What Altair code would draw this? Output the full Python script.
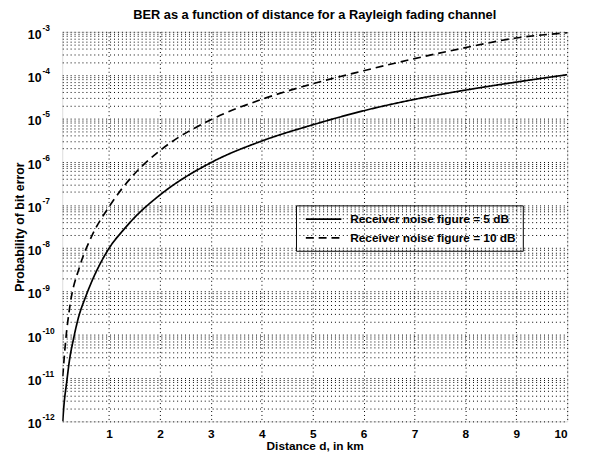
import altair as alt
import pandas as pd

# ---- data ----
series_names = ["Receiver noise figure = 5 dB", "Receiver noise figure = 10 dB"]

d_solid = [0.09, 0.11, 0.17, 0.22, 0.30, 0.39, 0.54, 0.65, 1.0, 1.30, 1.47,
           2.0, 3.0, 4.0, 5.0, 6.0, 7.0, 8.0, 9.0, 10.0]
ber_solid = [1.0e-12, 2.1e-12, 8.5e-12, 2.5e-11, 7.9e-11, 2.3e-10, 7.6e-10,
             1.6e-9, 1.0e-8, 2.8e-8, 4.7e-8, 1.7e-7, 9.5e-7, 3.0e-6, 7.1e-6,
             1.5e-5, 2.75e-5, 4.5e-5, 6.9e-5, 1.02e-4]

d_dashed = [0.09, 0.15, 0.23, 0.42, 0.65, 1.0, 1.47, 2.0, 3.0, 4.0, 5.0,
            6.0, 7.0, 8.0, 9.0, 10.0]
ber_dashed = [1.1e-11, 7.9e-11, 4.6e-10, 3.7e-9, 1.8e-8, 9.1e-8, 4.8e-7,
              1.8e-6, 9.3e-6, 2.75e-5, 6.3e-5, 1.26e-4, 2.4e-4, 4.3e-4,
              7.2e-4, 9.5e-4]

x_ticks = [1, 2, 3, 4, 5, 6, 7, 8, 9, 10]
decades = [1e-12, 1e-11, 1e-10, 1e-9, 1e-8, 1e-7, 1e-6, 1e-5, 1e-4, 1e-3]
label_base = "10"
label_exponents = ["-12", "-11", "-10", "-9", "-8", "-7", "-6", "-5", "-4", "-3"]
mantissas = [1, 2, 3, 4, 5, 6, 7, 8, 9]

# ---- build tables ----
df = pd.concat([
    pd.DataFrame({"d": d_solid, "ber": ber_solid, "series": series_names[0]}),
    pd.DataFrame({"d": d_dashed, "ber": ber_dashed, "series": series_names[1]}),
])
df_labels = pd.DataFrame({"ber": decades, "base": label_base, "exp": label_exponents})

y_values = [m * dec for dec in decades[:-1] for m in mantissas] + [decades[-1]]

FONT = "Liberation Sans"

yscale = alt.Scale(type="log", domain=[1e-12, 1e-3], nice=False)
yaxis = alt.Axis(
    values=y_values, labels=False, title="Probability of bit error",
    ticks=False, titleFontSize=12.5, titleFontWeight="bold", titleX=-36,
    grid=True, gridColor="black", gridDash=[1, 3], gridOpacity=1,
    domain=False, titleColor="black", titleFont=FONT,
)

lines = alt.Chart(df).mark_line(
    color="black", strokeWidth=1.7, clip=True, interpolate="monotone"
).encode(
    x=alt.X(
        "d:Q",
        scale=alt.Scale(domain=[0.08, 10], nice=False, zero=False),
        axis=alt.Axis(
            values=x_ticks, title="Distance d, in km", ticks=False,
            labelPadding=7, titlePadding=2, labelFontSize=12,
            labelFontWeight="bold", titleFontSize=12, titleFontWeight="bold",
            grid=True, gridColor="black", gridDash=[1, 3], gridOpacity=1,
            domain=False, labelColor="black", titleColor="black",
            labelFont=FONT, titleFont=FONT,
        ),
    ),
    y=alt.Y("ber:Q", scale=yscale, axis=yaxis),
    strokeDash=alt.StrokeDash(
        "series:N",
        scale=alt.Scale(domain=series_names, range=[[1, 0], [8, 5]]),
        legend=alt.Legend(
            title=None, orient="none", legendX=237, legendY=176,
            strokeColor="black", padding=7, rowPadding=6,
            symbolType="M-3,0H3", symbolSize=144, symbolOffset=14,
            symbolStrokeWidth=1.7, symbolStrokeColor="black",
            labelOffset=20, labelFontSize=12, labelFontWeight="bold",
            labelFont=FONT, labelColor="black", labelLimit=400,
        ),
    ),
)

base_text = alt.Chart(df_labels).mark_text(
    align="right", baseline="middle", fontSize=12.5, fontWeight="bold",
    font=FONT, color="black", dy=3,
).encode(
    x=alt.value(-21),
    y=alt.Y("ber:Q", scale=yscale, axis=yaxis),
    text="base:N",
)

exp_text = alt.Chart(df_labels).mark_text(
    align="left", baseline="middle", fontSize=8.5, fontWeight="bold",
    font=FONT, color="black", dy=-4,
).encode(
    x=alt.value(-20),
    y=alt.Y("ber:Q", scale=yscale, axis=yaxis),
    text="exp:N",
)

chart = alt.layer(lines, base_text, exp_text).properties(
    width=512,
    height=395,
    title=alt.TitleParams(
        "BER as a function of distance for a Rayleigh fading channel",
        fontSize=13, fontWeight="bold", font=FONT, color="black",
        anchor="middle", offset=2,
    ),
    autosize=alt.AutoSizeParams(type="none"),
    padding={"left": 55, "top": 21, "right": 15, "bottom": 35},
).configure_view(
    stroke="black", strokeWidth=1.6
).configure(background="white")

chart.save("out.html", embed_options={"renderer": "svg", "actions": False})
